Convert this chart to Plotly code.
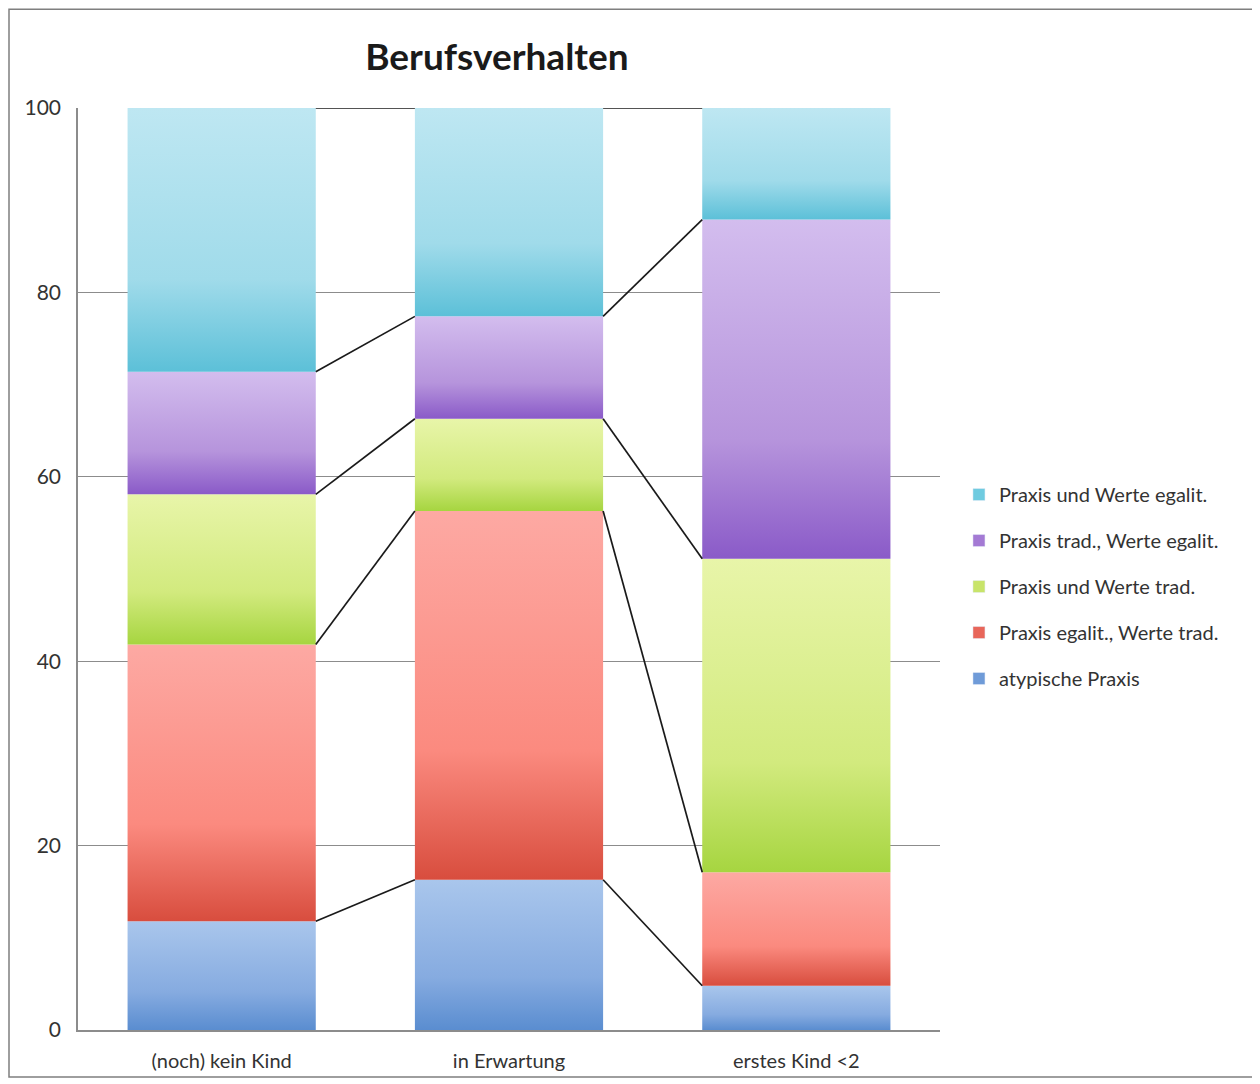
import plotly.graph_objects as go
import numpy as np

categories = ["(noch) kein Kind", "in Erwartung", "erstes Kind <2"]
series_names = ["atypische Praxis", "Praxis egalit., Werte trad.", "Praxis und Werte trad.",
                "Praxis trad., Werte egalit.", "Praxis und Werte egalit."]
atypische = [11.8, 16.3, 4.8]
egalit_trad = [30.0, 40.0, 12.3]
werte_trad = [16.3, 10.0, 34.0]
trad_egalit = [13.3, 11.1, 36.8]
werte_egalit = [28.6, 22.6, 12.1]
y_ticks = [0, 20, 40, 60, 80, 100]

series_values = [atypische, egalit_trad, werte_trad, trad_egalit, werte_egalit]
# gradient colours: (bottom, middle, top)
gradients = [
    ("#5a8dd0", "#86abe0", "#a9c6ec"),
    ("#d84d3e", "#fb8a7f", "#fda9a3"),
    ("#a6d540", "#d2ea7e", "#e8f5a9"),
    ("#8a5ac8", "#b694dc", "#d3bdee"),
    ("#5cc0d8", "#a0dbea", "#bee7f2"),
]
legend_colors = ["#6f9bd8", "#e8665a", "#c8e46a", "#a47ad4", "#6fcbe0"]

bar_w = 0.655
xpos = np.arange(len(categories))
FONT = "Lato, Open Sans, sans-serif"

fig = go.Figure()
cum = np.zeros(len(categories))
levels = []
for s, (name, vals) in enumerate(zip(series_names, series_values)):
    bottoms = cum.copy()
    tops = cum + np.array(vals)
    for i, x in enumerate(xpos):
        x0, x1 = x - bar_w / 2, x + bar_w / 2
        b, t = bottoms[i], tops[i]
        bot_c, mid_c, top_c = gradients[s]
        fig.add_trace(go.Scatter(
            x=[x0, x1, x1, x0, x0], y=[b, b, t, t, b],
            mode="lines", line=dict(width=0), fill="toself",
            fillgradient=dict(type="vertical",
                              colorscale=[[0, bot_c], [0.35, mid_c], [1, top_c]]),
            name=name, legendgroup=name, showlegend=False, hoverinfo="skip",
        ))
    # legend entry
    fig.add_trace(go.Bar(x=[None], y=[None], name=name, legendgroup=name,
                         legendrank=10 - s,
                         marker=dict(color=legend_colors[s]), showlegend=True))
    cum = tops
    levels.append(tops.copy())

# connector lines
lx, ly = [], []
for lev in levels:
    for i in range(len(categories) - 1):
        lx += [xpos[i] + bar_w / 2, xpos[i + 1] - bar_w / 2, None]
        ly += [lev[i], lev[i + 1], None]
fig.add_trace(go.Scatter(x=lx, y=ly, mode="lines", line=dict(color="#1a1a1a", width=1.7),
                         showlegend=False, hoverinfo="skip"))

fig.update_layout(
    width=1252, height=1076,
    margin=dict(l=70, r=320, t=100, b=52),
    paper_bgcolor="white", plot_bgcolor="white",
    font=dict(family=FONT, size=18, color="#333333"),
    title=dict(text="<b>Berufsverhalten</b>", x=0.486, xref="paper", xanchor="center",
               y=1 - 49 / 1076, yanchor="middle",
               font=dict(size=37, color="#1a1a1a", family=FONT)),
    showlegend=True,
    legend=dict(x=1.022, xanchor="left", y=0.481, yanchor="middle",
                traceorder="grouped", tracegroupgap=17,
                font=dict(size=20, color="#333333"), itemwidth=30,
                bgcolor="rgba(0,0,0,0)"),
    barmode="overlay",
)
fig.update_xaxes(range=[-0.5, 2.5], tickvals=list(xpos), ticktext=categories,
                 showgrid=False, showline=True, linecolor="#8c8c8c", linewidth=1.5,
                 zeroline=False, ticks="", ticklabelstandoff=12,
                 tickfont=dict(size=20, color="#333333"))
fig.update_yaxes(range=[0, 100], tickvals=y_ticks, showgrid=True, gridcolor="#8c8c8c",
                 gridwidth=1, showline=True, linecolor="#8c8c8c", linewidth=1.5,
                 zeroline=False, ticks="", ticklabelstandoff=11,
                 tickfont=dict(size=21, color="#333333"))

# chart-area border
fig.add_shape(type="rect", xref="paper", yref="paper",
              x0=(9 - 78) / 862, x1=(1257 - 78) / 862,
              y0=(1032 - 1079) / 924, y1=(1032 - 9) / 924,
              line=dict(color="#7f7f7f", width=1.5), fillcolor="rgba(0,0,0,0)", layer="below")

fig.write_html("out.html")
